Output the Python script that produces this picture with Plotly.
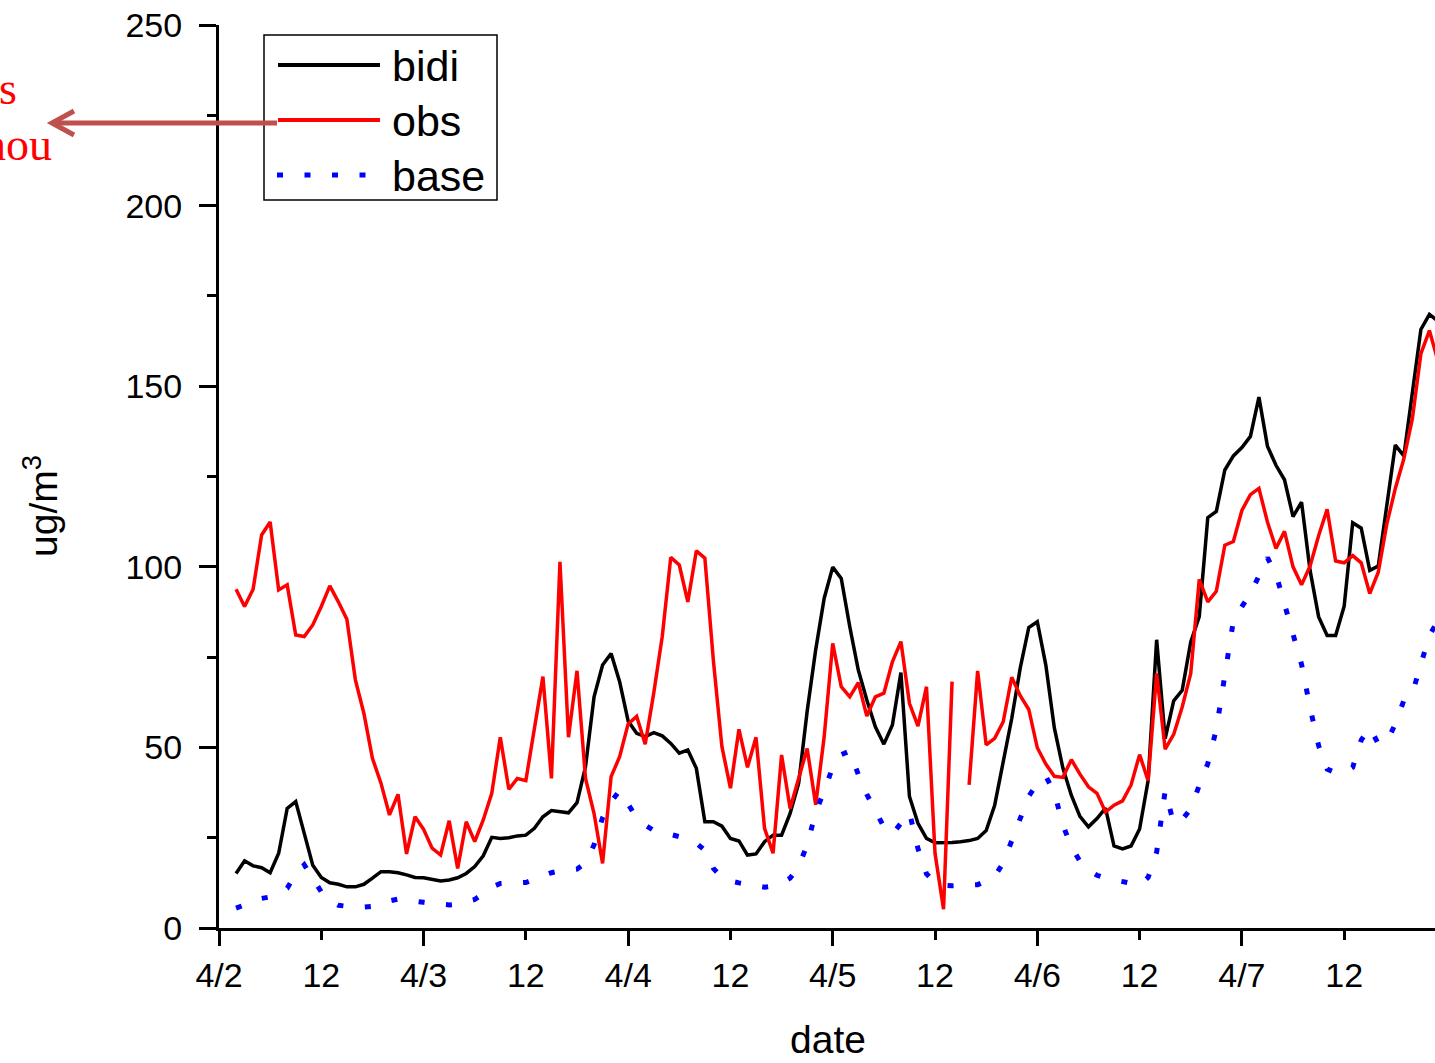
import plotly.graph_objects as go

# hour offsets from 4/2 00:00 (hourly data starting 4/2 02:00)
hours = list(range(2, 144))

bidi = [15.1, 18.6, 17.2, 16.7, 15.3, 20.7, 33.1, 35.0, 26.2, 17.4,
        14.0, 12.5, 12.1, 11.4, 11.4, 12.1, 13.8, 15.6, 15.6, 15.3,
        14.7, 14.0, 13.9, 13.5, 13.0, 13.3, 13.9, 15.1, 17.0, 20.0,
        25.1, 24.8, 25.0, 25.5, 25.7, 27.6, 30.8, 32.5, 32.2, 31.9,
        34.7, 44.7, 64.0, 72.8, 76.0, 68.2, 57.3, 53.9, 53.0, 54.1,
        53.2, 51.1, 48.4, 49.3, 44.2, 29.4, 29.4, 28.2, 24.8, 24.1,
        20.2, 20.5, 23.9, 25.7, 25.7, 31.7, 40.0, 60.0, 77.0, 91.3,
        99.9, 96.8, 83.4, 71.4, 63.1, 55.7, 50.9, 56.2, 70.7, 36.4,
        29.0, 24.8, 23.6, 23.6, 23.7, 23.9, 24.2, 24.8, 27.0, 34.0,
        46.0, 58.0, 72.0, 83.2, 84.8, 72.8, 55.4, 44.3, 36.7, 30.9,
        28.0, 30.3, 33.2, 22.7, 21.9, 22.7, 27.4, 40.8, 79.8, 52.4,
        62.9, 65.8, 79.2, 86.2, 113.6, 115.3, 126.8, 130.7, 133.0, 136.1,
        147.0, 133.4, 128.1, 124.1, 113.9, 117.9, 99.0, 86.2, 81.0, 81.0,
        89.1, 112.2, 110.7, 99.0, 100.2, 116.5, 133.7, 130.7, 148.0, 165.7,
        169.9, 168.0]

obs = [93.8, 89.0, 93.8, 108.8, 112.4, 93.6, 95.0, 81.1, 80.7, 83.9,
       89.0, 94.7, 90.3, 85.5, 68.7, 59.4, 47.0, 40.1, 31.3, 37.0,
       20.5, 30.8, 27.3, 22.1, 20.2, 29.7, 16.5, 29.4, 23.9, 29.9,
       37.3, 52.8, 38.4, 41.4, 40.8, 55.3, 69.6, 41.4, 101.4, 52.8,
       71.2, 41.4, 31.7, 17.9, 41.9, 47.4, 56.5, 58.6, 50.9, 65.0,
       80.7, 102.6, 100.5, 90.3, 104.4, 102.4, 74.0, 50.2, 38.7, 55.0,
       44.5, 52.8, 27.6, 20.7, 47.9, 33.1, 41.0, 49.7, 34.1, 53.0,
       78.8, 66.8, 64.0, 67.9, 58.7, 64.0, 65.0, 73.7, 79.3, 62.2,
       55.9, 66.8, 20.7, 5.2, 68.2, None, 39.6, 71.2, 50.7, 52.5,
       57.1, 69.4, 64.3, 60.5, 49.9, 45.4, 42.0, 41.7, 46.6, 42.6,
       39.1, 37.3, 32.1, 34.0, 35.2, 39.6, 48.0, 40.8, 70.5, 49.5,
       53.6, 61.2, 70.5, 96.5, 90.3, 93.2, 106.0, 107.0, 115.6, 120.0,
       121.7, 112.4, 105.1, 109.8, 100.0, 95.0, 100.2, 108.6, 115.9, 101.6,
       101.1, 103.1, 101.1, 92.6, 98.5, 111.8, 121.7, 129.9, 141.0, 159.0,
       165.4, 157.0]

base = [5.5, 6.5, 7.5, 8.2, 8.6, 9.5, 11.0, 15.0, 17.5, 14.0,
        10.0, 7.5, 6.3, 6.0, 5.8, 5.8, 6.0, 6.8, 7.5, 8.0,
        7.8, 7.4, 7.1, 6.8, 6.5, 6.4, 6.6, 7.2, 7.9, 9.5,
        11.3, 12.3, 12.5, 12.5, 12.6, 13.5, 14.5, 15.3, 15.8, 16.0,
        16.3, 18.0, 23.0, 30.5, 35.0, 38.0, 34.0, 30.5, 28.5, 27.0,
        26.5, 26.0, 25.3, 24.5, 23.5, 21.5, 16.5, 14.0, 13.0, 12.5,
        12.1, 11.8, 11.3, 11.6, 12.5, 13.8, 17.0, 23.0, 32.0, 38.0,
        44.5, 48.0, 49.0, 42.5, 37.0, 32.5, 28.0, 26.0, 29.0, 32.0,
        22.0, 15.0, 12.5, 11.8, 11.7, 11.7, 11.8, 12.0, 13.0, 14.3,
        18.0, 24.0, 30.5, 36.5, 40.0, 42.0, 37.5, 28.5, 22.5, 18.5,
        16.0, 14.6, 13.8, 13.4, 13.0, 12.5, 11.9, 14.0, 21.0, 38.0,
        29.0, 30.0, 33.0, 39.5, 45.5, 55.0, 70.5, 85.0, 89.0, 92.5,
        97.5, 102.5, 98.0, 89.5, 82.0, 73.0, 61.0, 50.5, 44.0, 43.0,
        43.0, 44.5, 52.0, 55.5, 51.0, 51.5, 56.5, 63.0, 65.0, 73.5,
        81.0, 85.0]

tick_hours = [0, 12, 24, 36, 48, 60, 72, 84, 96, 108, 120, 132]
tick_labels = ["4/2", "12", "4/3", "12", "4/4", "12", "4/5", "12", "4/6", "12", "4/7", "12"]
day_ticks = [0, 24, 48, 72, 96, 120]

W, H = 1435, 1063
ML, MR, MT, MB = 219, 0, 25, 135
PW, PH = W - ML - MR, H - MT - MB


def fx(p):
    return (p - ML) / PW


def fy(p):
    return (H - MB - p) / PH


FONT = "Liberation Sans, Arial, sans-serif"
SERIF = "Liberation Serif, Times New Roman, serif"
DOTS = "6px,21.5px"

fig = go.Figure()
fig.add_trace(go.Scatter(x=hours, y=bidi, mode="lines", name="bidi",
                         line=dict(color="#000000", width=3.5), showlegend=False))
fig.add_trace(go.Scatter(x=hours, y=obs, mode="lines", name="obs", connectgaps=False,
                         line=dict(color="#ff0000", width=3.5), showlegend=False))
fig.add_trace(go.Scatter(x=hours, y=base, mode="lines", name="base",
                         line=dict(color="#0000ff", width=5, dash=DOTS),
                         showlegend=False))
# carrier for the day-tick axis
fig.add_trace(go.Scatter(x=[], y=[], xaxis="x2", yaxis="y", showlegend=False,
                         hoverinfo="skip"))

xr = [0, PW / 8.524]

fig.update_layout(
    width=W, height=H,
    margin=dict(l=ML, r=MR, t=MT, b=MB),
    paper_bgcolor="white", plot_bgcolor="white",
    font=dict(family=FONT, color="black", size=33),
    xaxis=dict(range=xr, tickmode="array", tickvals=tick_hours, ticktext=tick_labels,
               ticks="outside", ticklen=9, tickwidth=3, tickcolor="black",
               showline=True, linewidth=3, linecolor="black", mirror=False,
               showgrid=False, zeroline=False, tickfont=dict(size=34, family=FONT),
               ticklabelstandoff=6),
    xaxis2=dict(range=xr, overlaying="x", anchor="y", side="bottom",
                tickmode="array", tickvals=day_ticks, showticklabels=False,
                ticks="outside", ticklen=17, tickwidth=3, tickcolor="black",
                showline=False, showgrid=False, zeroline=False,
                tickfont=dict(size=34, family=FONT)),
    yaxis=dict(range=[0, 250], tickmode="linear", tick0=0, dtick=50,
               ticks="outside", ticklen=17, tickwidth=3, tickcolor="black",
               minor=dict(dtick=25, tick0=0, ticks="outside", ticklen=9, tickwidth=3,
                          tickcolor="black", showgrid=False),
               showline=True, linewidth=3, linecolor="black",
               showgrid=False, zeroline=False, tickfont=dict(size=34, family=FONT),
               ticklabelstandoff=10),
)

shapes = []
# legend box
shapes.append(dict(type="rect", xref="paper", yref="paper",
                   x0=fx(264), x1=fx(497), y0=fy(200), y1=fy(35),
                   line=dict(color="black", width=1.5), fillcolor="white", layer="above"))
shapes.append(dict(type="line", xref="paper", yref="paper",
                   x0=fx(278), x1=fx(380), y0=fy(65), y1=fy(65),
                   line=dict(color="#000000", width=4), layer="above"))
shapes.append(dict(type="line", xref="paper", yref="paper",
                   x0=fx(278), x1=fx(380), y0=fy(120), y1=fy(120),
                   line=dict(color="#ff0000", width=4), layer="above"))
shapes.append(dict(type="line", xref="paper", yref="paper",
                   x0=fx(277), x1=fx(368), y0=fy(175), y1=fy(175),
                   line=dict(color="#0000ff", width=5, dash=DOTS), layer="above"))
# arrow
shapes.append(dict(type="line", xref="paper", yref="paper",
                   x0=fx(277), x1=fx(54), y0=fy(123), y1=fy(123),
                   line=dict(color="#c0504d", width=5), layer="above"))
shapes.append(dict(type="path", xref="paper", yref="paper",
                   path=f"M {fx(74)},{fy(111)} L {fx(52)},{fy(123)} L {fx(74)},{fy(135)}",
                   line=dict(color="#c0504d", width=5), layer="above"))
fig.update_layout(shapes=shapes)

ann = []
for label, yc in [("bidi", 66), ("obs", 121), ("base", 176)]:
    ann.append(dict(text=label, xref="paper", yref="paper", x=fx(390), y=fy(yc),
                    xanchor="left", yanchor="middle", showarrow=False,
                    font=dict(size=43, family=FONT, color="black")))
ann.append(dict(text="ug/m<sup>3</sup>", xref="paper", yref="paper", x=fx(40), y=fy(506),
                xanchor="center", yanchor="middle", textangle=-90, showarrow=False,
                font=dict(size=39, family=FONT, color="black")))
ann.append(dict(text="date", xref="paper", yref="paper", x=fx(828), y=fy(1063),
                xanchor="center", yanchor="bottom", showarrow=False,
                font=dict(size=39, family=FONT, color="black")))
ann.append(dict(text="s", xref="paper", yref="paper", x=fx(19), y=fy(88),
                xanchor="right", yanchor="middle", showarrow=False,
                font=dict(size=46, family=SERIF, color="#ff0000")))
ann.append(dict(text="hou", xref="paper", yref="paper", x=fx(54), y=fy(144),
                xanchor="right", yanchor="middle", showarrow=False,
                font=dict(size=46, family=SERIF, color="#ff0000")))
fig.update_layout(annotations=ann)

fig.write_html("out.html")
